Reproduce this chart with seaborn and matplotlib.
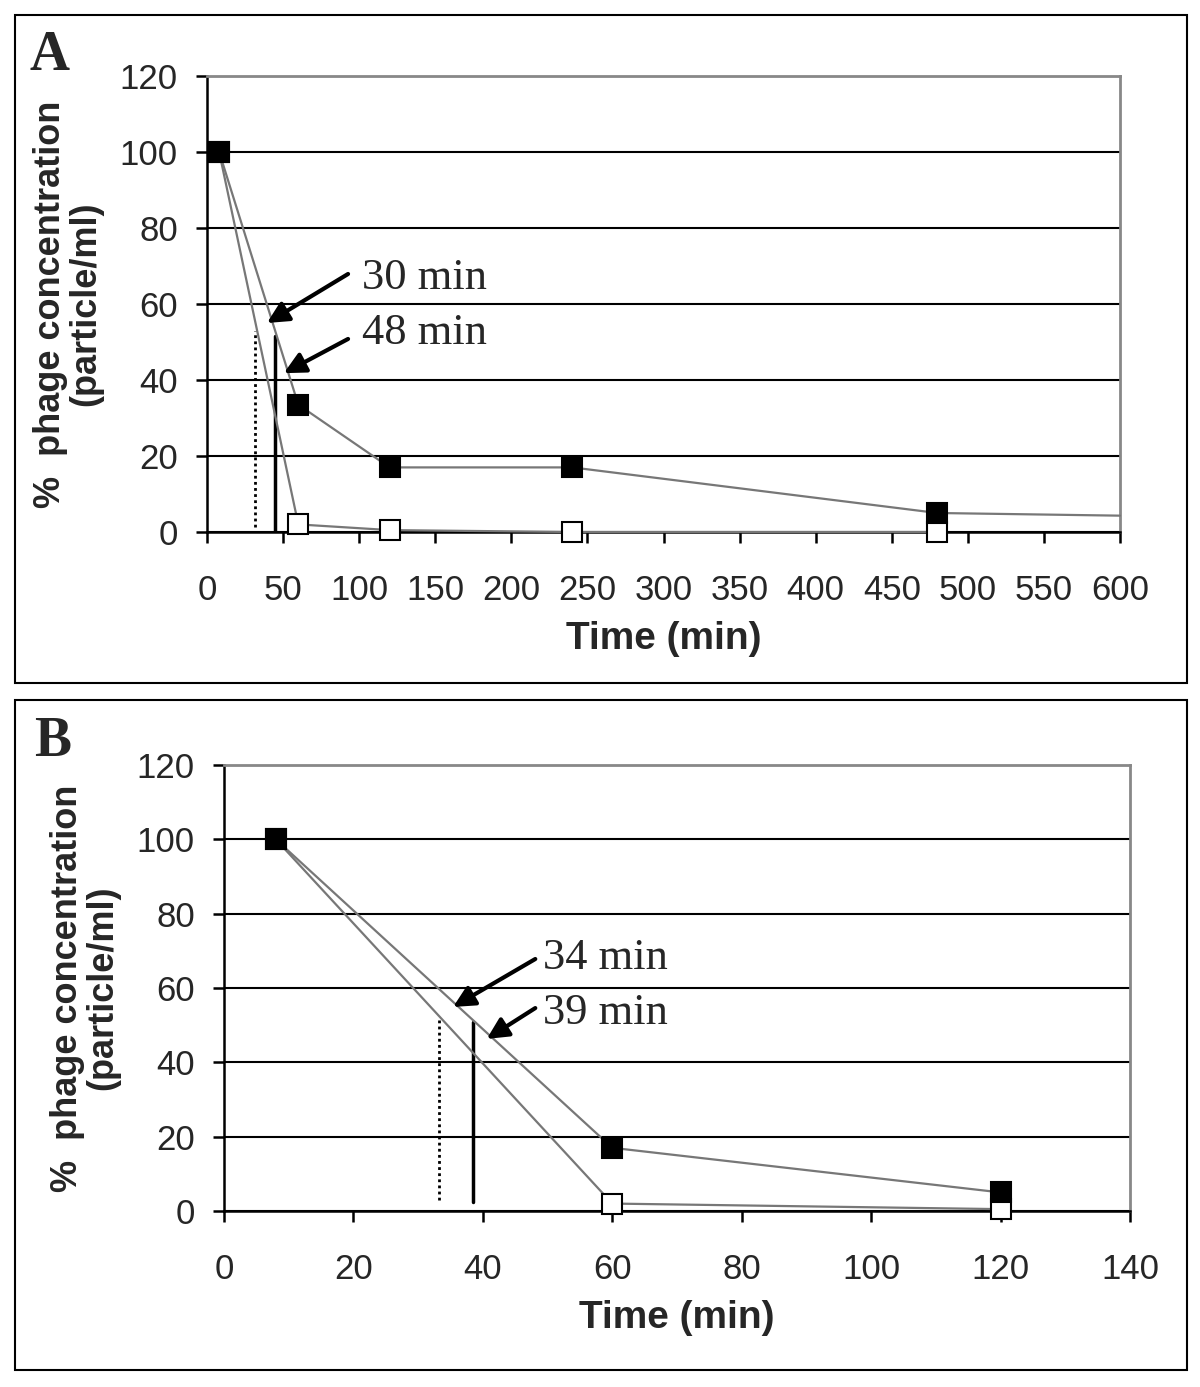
import seaborn as sns
import pandas as pd
import matplotlib.pyplot as plt
from matplotlib.patches import Rectangle

# Panel A data
a_time_black = [8, 60, 120, 240, 480, 600]
a_conc_black = [100, 33.5, 17, 17, 5, 4.3]
a_time_white = [8, 60, 120, 240, 480]
a_conc_white = [100, 2, 0.5, 0, 0]

# Panel B data
b_time_black = [8, 60, 120]
b_conc_black = [100, 17, 5]
b_time_white = [8, 60, 120]
b_conc_white = [100, 2, 0.5]

# half-life markers: (x, y_bottom, y_top)
a_dotted = (31.5, 1.3, 53)
a_solid = (45, 0, 51.5)
b_dotted = (33.2, 3, 52)
b_solid = (38.5, 2.4, 50.8)

# annotations: label, arrow tail, arrow head, text position
a_notes = [("30 min", (92.7, 67.9), (39.4, 55.0), (101.9, 66.8)),
           ("48 min", (92.7, 50.8), (50.5, 41.8), (101.9, 52.4))]
b_notes = [("34 min", (48.1, 67.8), (35.4, 54.9), (49.3, 68.1)),
           ("39 min", (48.1, 54.6), (40.6, 46.3), (49.3, 53.3))]

sns.set_theme(style="white")
plt.rcParams['font.family'] = ['Liberation Sans', 'DejaVu Sans']

W, H = 1200, 1387
fig = plt.figure(figsize=(W / 100, H / 100), dpi=100)

ax_a = fig.add_axes([207 / W, 1 - 532 / H, 913 / W, 456 / H])
ax_b = fig.add_axes([224 / W, 1 - 1211 / H, 906 / W, 446 / H])


def draw_panel(ax, tb, cb, tw, cw, n_black_markers, dotted, solid, notes, xmax, xstep):
    df_b = pd.DataFrame({'Time': tb, 'Conc': cb})
    df_w = pd.DataFrame({'Time': tw, 'Conc': cw})
    sns.lineplot(data=df_w, x='Time', y='Conc', ax=ax, color='#777777', lw=1.6,
                 marker='s', markersize=15, markerfacecolor='white',
                 markeredgecolor='black', markeredgewidth=1.5, zorder=4, clip_on=False)
    sns.lineplot(data=df_b, x='Time', y='Conc', ax=ax, color='#777777', lw=1.6,
                 marker='s', markersize=15, markerfacecolor='black',
                 markeredgecolor='black', markeredgewidth=1.5,
                 markevery=list(range(n_black_markers)), zorder=5, clip_on=False)

    ax.plot([dotted[0], dotted[0]], [dotted[1], dotted[2]], color='black', lw=2, ls=(0, (1, 1.2)), zorder=3)
    ax.plot([solid[0], solid[0]], [solid[1], solid[2]], color='black', lw=2.5, zorder=3)

    for label, tail, head, tpos in notes:
        ax.annotate("", xy=head, xytext=tail,
                    arrowprops=dict(arrowstyle='-|>', color='black', lw=3, mutation_scale=32,
                                    shrinkA=0, shrinkB=0), zorder=6)
        ax.text(tpos[0], tpos[1], label, fontsize=32, family=['Liberation Serif'],
                va='center', ha='left', zorder=6)

    ax.set_xlim(0, xmax)
    ax.set_ylim(0, 120)
    ax.set_xticks(range(0, xmax + 1, xstep))
    ax.set_yticks(range(0, 121, 20))
    ax.yaxis.grid(True, color='black', lw=1.5)
    ax.xaxis.grid(False)
    ax.set_axisbelow(True)

    for side in ['top', 'right']:
        ax.spines[side].set_color('#888888')
        ax.spines[side].set_linewidth(2)
    for side in ['left', 'bottom']:
        ax.spines[side].set_color('black')
        ax.spines[side].set_linewidth(1.8)

    ax.tick_params(axis='both', direction='out', length=8, width=1.8, color='black',
                   labelsize=25, bottom=True, left=True)
    ax.tick_params(axis='y', pad=13)
    ax.tick_params(axis='x', pad=22)
    ax.set_xlabel('Time (min)', fontsize=28, fontweight='bold', labelpad=10)
    ax.set_ylabel('%  phage concentration\n(particle/ml)', fontsize=26,
                  fontweight='bold', labelpad=12, linespacing=1.0)


draw_panel(ax_a, a_time_black, a_conc_black, a_time_white, a_conc_white, 5,
           a_dotted, a_solid, a_notes, 600, 50)
draw_panel(ax_b, b_time_black, b_conc_black, b_time_white, b_conc_white, 3,
           b_dotted, b_solid, b_notes, 140, 20)

# outer panel boxes
fig.add_artist(Rectangle((15 / W, 1 - 683 / H), 1172 / W, 668 / H, transform=fig.transFigure,
                         fill=False, edgecolor='black', lw=1.5))
fig.add_artist(Rectangle((15 / W, 1 - 1370 / H), 1172 / W, 670 / H, transform=fig.transFigure,
                         fill=False, edgecolor='black', lw=1.5))

fig.text(30 / W, 1 - 30 / H, 'A', fontsize=40, fontweight='bold',
         family=['Liberation Serif'], va='top', ha='left')
fig.text(34 / W, 1 - 716 / H, 'B', fontsize=40, fontweight='bold',
         family=['Liberation Serif'], va='top', ha='left')

fig.savefig('out.png', dpi=100, facecolor='white')
